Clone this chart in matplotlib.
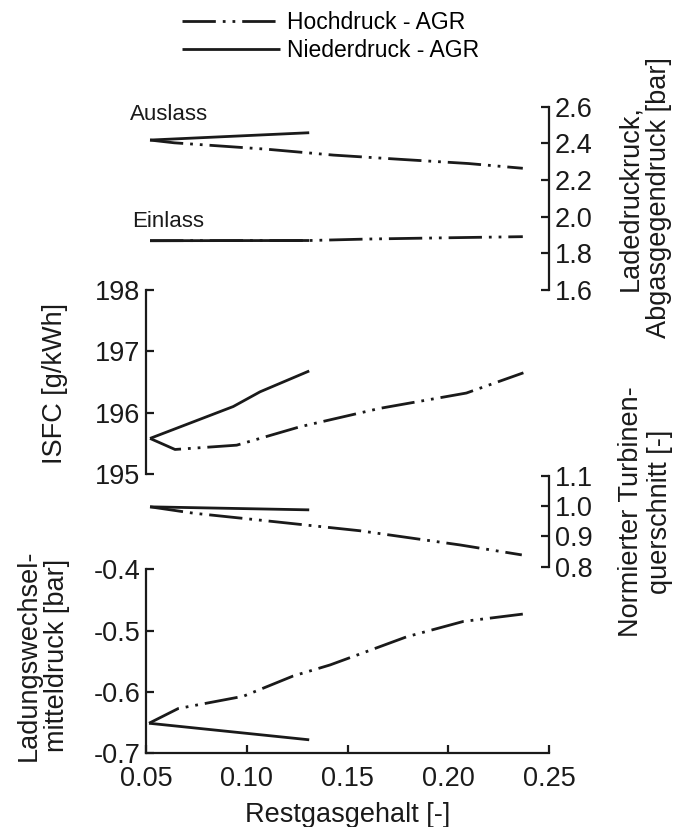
import matplotlib
matplotlib.use('Agg')
import matplotlib.pyplot as plt
from matplotlib.lines import Line2D
from matplotlib.ticker import FormatStrFormatter

plt.rcParams['font.family'] = ['Liberation Sans', 'DejaVu Sans']
plt.rcParams['axes.unicode_minus'] = False
plt.rcParams['lines.scale_dashes'] = False

# ---------------- data ----------------
x_ticks = [0.05, 0.10, 0.15, 0.20, 0.25]

# Ladedruck / Abgasgegendruck [bar]
ausl_hd_x = [0.052, 0.064, 0.110, 0.143, 0.176, 0.210, 0.237]
ausl_hd_y = [2.418, 2.403, 2.368, 2.336, 2.313, 2.290, 2.264]
ausl_nd_x = [0.052, 0.131]
ausl_nd_y = [2.418, 2.458]
einl_hd_x = [0.052, 0.131, 0.160, 0.200, 0.237]
einl_hd_y = [1.869, 1.870, 1.878, 1.885, 1.891]
einl_nd_x = [0.052, 0.131]
einl_nd_y = [1.869, 1.870]
p_ticks = [1.6, 1.8, 2.0, 2.2, 2.4, 2.6]

# ISFC [g/kWh]
isfc_hd_x = [0.052, 0.0644, 0.095, 0.1264, 0.166, 0.209, 0.2373]
isfc_hd_y = [195.58, 195.40, 195.47, 195.77, 196.07, 196.32, 196.65]
isfc_nd_x = [0.052, 0.0933, 0.1066, 0.131]
isfc_nd_y = [195.58, 196.10, 196.34, 196.68]
isfc_ticks = [195, 196, 197, 198]

# Normierter Turbinenquerschnitt [-]
turb_hd_x = [0.052, 0.0735, 0.1066, 0.156, 0.2058, 0.2365]
turb_hd_y = [0.998, 0.977, 0.954, 0.919, 0.872, 0.839]
turb_nd_x = [0.052, 0.131]
turb_nd_y = [0.998, 0.988]
turb_ticks = [0.8, 0.9, 1.0, 1.1]

# Ladungswechselmitteldruck [bar]
lw_hd_x = [0.0515, 0.066, 0.0983, 0.123, 0.1413, 0.1546, 0.1794, 0.2075, 0.237]
lw_hd_y = [-0.651, -0.627, -0.607, -0.574, -0.556, -0.540, -0.510, -0.485, -0.473]
lw_nd_x = [0.0515, 0.131]
lw_nd_y = [-0.651, -0.678]
lw_ticks = [-0.7, -0.6, -0.5, -0.4]

# ---------------- style ----------------
W, H = 681, 827
FS = 19.5
LW = 2.0
HD_STYLE = dict(color='#1a1a1a', lw=LW, linestyle=(0, (24, 5, 2, 5, 2, 5)), dash_capstyle='butt')
ND_STYLE = dict(color='#1a1a1a', lw=LW, linestyle='-', solid_capstyle='butt')

fig = plt.figure(figsize=(W / 100, H / 100), dpi=100)


def rect(x0, x1, y0, y1):
    return [x0 / W, 1 - y1 / H, (x1 - x0) / W, (y1 - y0) / H]


def style_axis(ax, side, ticks, fmt, ylim):
    ax.set_xlim(0.05, 0.25)
    ax.set_ylim(*ylim)
    ax.patch.set_visible(False)
    for s in ['top', 'bottom', 'left', 'right']:
        ax.spines[s].set_visible(False)
    ax.spines[side].set_visible(True)
    ax.spines[side].set_linewidth(1.6)
    ax.spines[side].set_color('#1a1a1a')
    ax.set_yticks(ticks)
    ax.yaxis.set_major_formatter(FormatStrFormatter(fmt))
    if side == 'right':
        ax.yaxis.tick_right()
    else:
        ax.yaxis.tick_left()
    ax.tick_params(axis='y', direction='in', length=6, width=1.6, labelsize=FS, pad=4, colors='#1a1a1a')
    ax.set_xticks([])


ax_top = fig.add_axes(rect(146, 549, 106.7, 290))
style_axis(ax_top, 'right', p_ticks, '%.1f', (1.6, 2.6))
ax_top.plot(ausl_hd_x, ausl_hd_y, **HD_STYLE)
ax_top.plot(ausl_nd_x, ausl_nd_y, **ND_STYLE)
ax_top.plot(einl_hd_x, einl_hd_y, **HD_STYLE)
ax_top.plot(einl_nd_x, einl_nd_y, **ND_STYLE)

ax_isfc = fig.add_axes(rect(146, 549, 290, 474))
style_axis(ax_isfc, 'left', isfc_ticks, '%d', (195, 198))
ax_isfc.plot(isfc_hd_x, isfc_hd_y, **HD_STYLE)
ax_isfc.plot(isfc_nd_x, isfc_nd_y, **ND_STYLE)

ax_turb = fig.add_axes(rect(146, 549, 476, 566.7))
style_axis(ax_turb, 'right', turb_ticks, '%.1f', (0.8, 1.1))
ax_turb.plot(turb_hd_x, turb_hd_y, **HD_STYLE)
ax_turb.plot(turb_nd_x, turb_nd_y, **ND_STYLE)

ax_bot = fig.add_axes(rect(146, 549, 569.3, 753.3))
style_axis(ax_bot, 'left', lw_ticks, '%.1f', (-0.7, -0.4))
ax_bot.spines['bottom'].set_visible(True)
ax_bot.spines['bottom'].set_linewidth(1.6)
ax_bot.spines['bottom'].set_color('#1a1a1a')
ax_bot.set_xticks(x_ticks)
ax_bot.xaxis.set_major_formatter(FormatStrFormatter('%.2f'))
ax_bot.tick_params(axis='x', direction='in', length=6, width=1.6, labelsize=FS, pad=9, colors='#1a1a1a')
ax_bot.plot(lw_hd_x, lw_hd_y, **HD_STYLE)
ax_bot.plot(lw_nd_x, lw_nd_y, **ND_STYLE)

# x label
fig.text(347.5 / W, 1 - 815 / H, 'Restgasgehalt [-]', ha='center', va='center', fontsize=FS, color='#1a1a1a')

# y labels
fig.text(55 / W, 1 - 384 / H, 'ISFC [g/kWh]', rotation=90, ha='center', va='center', fontsize=FS, color='#1a1a1a')
fig.text(43 / W, 1 - 655 / H, 'Ladungswechsel-\nmitteldruck [bar]', rotation=90, ha='center', va='center',
         multialignment='center', fontsize=FS, linespacing=1.1, color='#1a1a1a')
fig.text(645 / W, 1 - 198 / H, 'Ladedruckruck,\nAbgasgegendruck [bar]', rotation=90, ha='center', va='center',
         multialignment='center', fontsize=FS, linespacing=1.15, color='#1a1a1a')
fig.text(645.5 / W, 1 - 512 / H, 'Normierter Turbinen-\nquerschnitt [-]', rotation=90, ha='center', va='center',
         multialignment='center', fontsize=FS, linespacing=1.15, color='#1a1a1a')

# annotations
fig.text(130 / W, 1 - 115 / H, 'Auslass', ha='left', va='center', fontsize=16, color='#1a1a1a')
fig.text(132 / W, 1 - 221.7 / H, 'Einlass', ha='left', va='center', fontsize=16, color='#1a1a1a')

# legend
handles = [Line2D([], [], **HD_STYLE), Line2D([], [], **ND_STYLE)]
labels = ['Hochdruck - AGR', 'Niederdruck - AGR']
fig.legend(handles, labels, loc='upper left', bbox_to_anchor=(181.7 / W, 1 - 11 / H), frameon=False,
           fontsize=16.5, handlelength=4.3, handletextpad=0.3, labelspacing=0.2, borderpad=0,
           borderaxespad=0)

fig.savefig('out.png', dpi=100)
